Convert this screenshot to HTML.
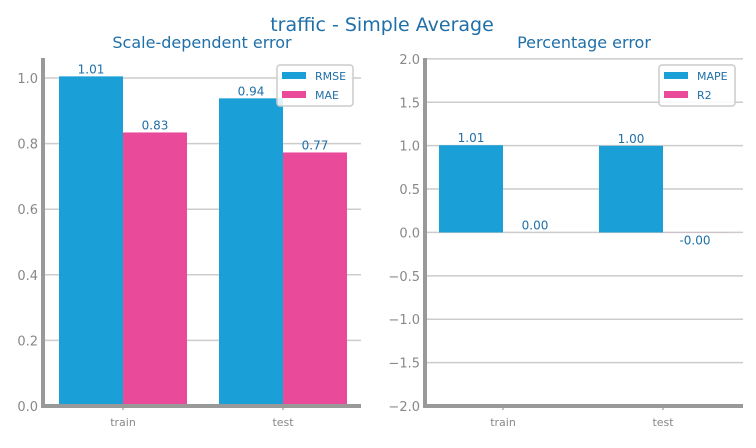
<!DOCTYPE html>
<html><head><meta charset="utf-8"><style>
body{margin:0;background:#fff;font-family:"Liberation Sans","DejaVu Sans",sans-serif}
text{font-family:"DejaVu Sans","Liberation Sans",sans-serif}
</style></head><body>
<svg id="c" width="756" height="443" xmlns="http://www.w3.org/2000/svg">
<text x="382" y="31" text-anchor="middle" font-size="19" fill="#1f6fa8">traffic - Simple Average</text>
</svg>
<script>
const categories=["train","test"];
const leftSeries=["RMSE","MAE"];
const leftRMSE=[1.005,0.938];
const leftMAE=[0.834,0.773];
const leftLabels=[["1.01","0.83"],["0.94","0.77"]];
const rightSeries=["MAPE","R2"];
const rightMAPE=[1.005,0.998];
const rightR2=[0.0,-0.001];
const rightLabels=[["1.01","0.00"],["1.00","-0.00"]];
const leftTicks=[0,0.2,0.4,0.6,0.8,1.0];
const rightTicks=[-2,-1.5,-1,-0.5,0,0.5,1,1.5,2];
const colors=["#1a9fd6","#ea4a9a"];
const svg=document.getElementById('c');
const NS="http://www.w3.org/2000/svg";
function mk(t,a,p){const e=document.createElementNS(NS,t);for(const k in a)e.setAttribute(k,a[k]);(p||svg).appendChild(e);return e;}
function panel(name,x0,x1,yTop,yBot,vmin,vmax,ticks,fmt,series,vals,labels,title,off){
  const g=mk('g',{});
  
  
  const y=v=>yBot-(v-vmin)/(vmax-vmin)*(yBot-yTop);
  const t=mk('text',{x:(x0+x1)/2,y:48,'text-anchor':'middle','font-size':16,fill:'#1f6fa8'},g);t.textContent=title;
  
  
  ticks.forEach(v=>{
    const l=mk('line',{x1:x0,x2:x1,y1:y(v),y2:y(v),stroke:'#cccccc','stroke-width':1.5},g);
    
    
    const tt=mk('text',{x:x0-5,y:y(v)+5,'text-anchor':'end','font-size':13,fill:'#888'},g);tt.textContent=fmt(v);
    
    
  });
  const bw=64;
  categories.forEach((c,i)=>{
    const cx=x0+off+i*160;
    vals.forEach((arr,s)=>{
      const v=arr[i];const bx=cx-bw+s*bw;
      const top=Math.min(y(v),y(0)),h=Math.abs(y(v)-y(0));
      const r=mk('rect',{x:bx,y:top,width:bw,height:h,fill:colors[s]},g);
      
      
      const lt=mk('text',{x:bx+bw/2,y:v>=0?y(v)-3:y(v)+12,'text-anchor':'middle','font-size':12,fill:'#1f6fa8'},g);lt.textContent=labels[i][s];
      
      
    });
    const ct=mk('text',{x:cx,y:yBot+20,'text-anchor':'middle','font-size':11,fill:'#888'},g);ct.textContent=c;
    
    
    mk('line',{x1:cx,x2:cx,y1:yBot,y2:yBot+4,stroke:'#888'},g);
  });
  const ax=mk('line',{x1:x0,x2:x0,y1:yTop,y2:yBot+2,stroke:'#999','stroke-width':4},g);
  
  
  const bx=mk('line',{x1:x0-2,x2:x1,y1:yBot,y2:yBot,stroke:'#999','stroke-width':4},g);
  
  
  const lg=mk('g',{},g);
  
  
  const lx=x1-84;
  mk('rect',{x:lx,y:65,width:76,height:41,rx:3,fill:'#fff','fill-opacity':0.85,stroke:'#ccc','stroke-width':1.5},lg);
  series.forEach((s,k)=>{
    mk('rect',{x:lx+5,y:72+k*19,width:24,height:7,fill:colors[k]},lg);
    const st=mk('text',{x:lx+38,y:80+k*19,'font-size':11,fill:'#1f6fa8'},lg);st.textContent=s;
    
    
  });
}
panel('left-panel',43,361,58,406,0,1.061,leftTicks,v=>v.toFixed(1),leftSeries,[leftRMSE,leftMAE],leftLabels,'Scale-dependent error',80);
panel('right-panel',425,743,58,406,-2,2.01,rightTicks,v=>(v<0?'\u2212':'')+Math.abs(v).toFixed(1),rightSeries,[rightMAPE,rightR2],rightLabels,'Percentage error',78);
</script>
</body></html>
